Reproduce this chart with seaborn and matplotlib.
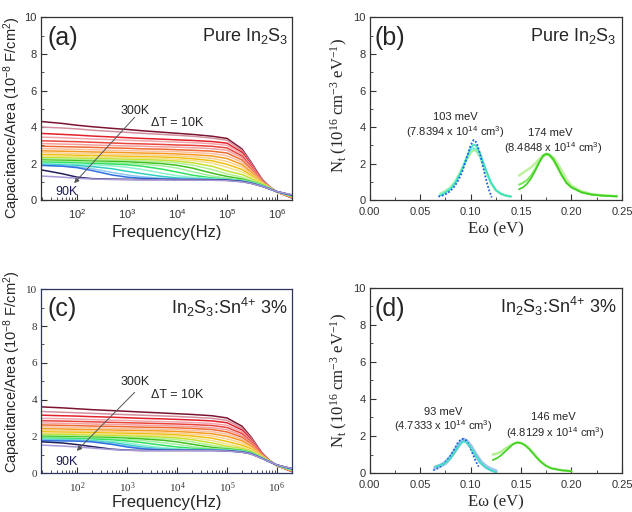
import matplotlib
matplotlib.use("Agg")
import matplotlib.pyplot as plt
import pandas as pd
import seaborn as sns
from matplotlib.ticker import MultipleLocator, LogLocator, NullFormatter

sns.set_style("ticks", {"xtick.direction": "in", "ytick.direction": "in"})
plt.rcParams["font.family"] = ["Liberation Sans", "DejaVu Sans"]
plt.rcParams["mathtext.default"] = "regular"
SERIF = ["Liberation Serif", "DejaVu Serif"]

# --- C-f data (curves listed from 300K at top down to 90K) ---
freq = [20, 50, 100, 200, 500, 1e3, 2e3, 5e3, 1e4, 2e4, 5e4, 1e5, 2e5, 3e5, 5e5, 7e5, 1e6, 2e6]

cap_pure = [
    [4.30, 4.20, 4.10, 4.02, 3.93, 3.87, 3.80, 3.72, 3.66, 3.60, 3.50, 3.38, 2.80, 2.10, 1.15, 0.75, 0.45, 0.12],
    [4.00, 3.95, 3.90, 3.83, 3.76, 3.71, 3.66, 3.60, 3.55, 3.50, 3.40, 3.28, 2.72, 2.05, 1.12, 0.75, 0.45, 0.13],
    [3.65, 3.60, 3.56, 3.51, 3.46, 3.42, 3.38, 3.34, 3.30, 3.27, 3.21, 3.12, 2.62, 1.98, 1.10, 0.74, 0.45, 0.14],
    [3.45, 3.42, 3.38, 3.35, 3.31, 3.28, 3.25, 3.21, 3.18, 3.15, 3.09, 3.00, 2.52, 1.92, 1.08, 0.73, 0.45, 0.15],
    [3.25, 3.22, 3.20, 3.17, 3.13, 3.10, 3.08, 3.05, 3.02, 3.00, 2.95, 2.86, 2.42, 1.85, 1.06, 0.72, 0.45, 0.16],
    [3.10, 3.07, 3.05, 3.02, 2.99, 2.97, 2.95, 2.92, 2.90, 2.87, 2.82, 2.73, 2.32, 1.78, 1.04, 0.72, 0.45, 0.17],
    [2.95, 2.93, 2.91, 2.89, 2.86, 2.84, 2.81, 2.79, 2.76, 2.73, 2.68, 2.58, 2.20, 1.70, 1.02, 0.71, 0.45, 0.18],
    [2.82, 2.80, 2.78, 2.76, 2.73, 2.71, 2.69, 2.67, 2.65, 2.61, 2.55, 2.43, 2.08, 1.62, 1.00, 0.71, 0.45, 0.18],
    [2.70, 2.68, 2.66, 2.64, 2.62, 2.60, 2.58, 2.56, 2.53, 2.49, 2.42, 2.28, 1.95, 1.54, 0.98, 0.70, 0.45, 0.19],
    [2.60, 2.58, 2.56, 2.54, 2.52, 2.50, 2.48, 2.46, 2.43, 2.38, 2.29, 2.12, 1.82, 1.46, 0.96, 0.70, 0.45, 0.20],
    [2.50, 2.48, 2.46, 2.44, 2.42, 2.40, 2.38, 2.36, 2.33, 2.27, 2.16, 1.96, 1.68, 1.38, 0.94, 0.69, 0.46, 0.20],
    [2.42, 2.40, 2.38, 2.36, 2.34, 2.32, 2.30, 2.28, 2.24, 2.17, 2.03, 1.80, 1.55, 1.30, 0.92, 0.69, 0.46, 0.21],
    [2.34, 2.32, 2.30, 2.28, 2.26, 2.24, 2.22, 2.19, 2.14, 2.05, 1.86, 1.60, 1.40, 1.20, 0.90, 0.68, 0.46, 0.22],
    [2.27, 2.25, 2.23, 2.21, 2.19, 2.17, 2.14, 2.10, 2.04, 1.92, 1.68, 1.44, 1.26, 1.10, 0.87, 0.67, 0.46, 0.22],
    [2.20, 2.18, 2.16, 2.14, 2.12, 2.10, 2.06, 2.00, 1.91, 1.76, 1.48, 1.30, 1.16, 1.03, 0.84, 0.66, 0.47, 0.23],
    [2.14, 2.12, 2.10, 2.08, 2.05, 2.02, 1.97, 1.88, 1.76, 1.56, 1.32, 1.20, 1.10, 1.00, 0.82, 0.65, 0.47, 0.24],
    [2.08, 2.06, 2.04, 2.01, 1.98, 1.94, 1.86, 1.70, 1.54, 1.37, 1.22, 1.15, 1.07, 0.98, 0.80, 0.64, 0.47, 0.25],
    [2.02, 2.00, 1.97, 1.94, 1.88, 1.80, 1.68, 1.48, 1.34, 1.25, 1.18, 1.13, 1.06, 0.97, 0.80, 0.64, 0.47, 0.25],
    [1.96, 1.93, 1.90, 1.84, 1.72, 1.58, 1.45, 1.30, 1.22, 1.18, 1.15, 1.12, 1.05, 0.96, 0.79, 0.63, 0.47, 0.26],
    [1.92, 1.88, 1.83, 1.72, 1.52, 1.38, 1.28, 1.20, 1.17, 1.15, 1.13, 1.11, 1.04, 0.95, 0.78, 0.63, 0.47, 0.27],
    [1.90, 1.86, 1.78, 1.62, 1.38, 1.26, 1.20, 1.16, 1.15, 1.14, 1.12, 1.10, 1.03, 0.94, 0.77, 0.62, 0.47, 0.28],
    [1.65, 1.45, 1.26, 1.18, 1.15, 1.14, 1.13, 1.13, 1.12, 1.12, 1.11, 1.09, 1.02, 0.93, 0.76, 0.62, 0.47, 0.28],
    [1.32, 1.26, 1.20, 1.16, 1.13, 1.12, 1.11, 1.11, 1.10, 1.10, 1.09, 1.07, 1.00, 0.92, 0.76, 0.62, 0.47, 0.30],
]

cap_sn = [
    [3.60, 3.55, 3.50, 3.45, 3.40, 3.36, 3.32, 3.27, 3.23, 3.19, 3.12, 3.00, 2.55, 1.98, 1.10, 0.70, 0.40, 0.08],
    [3.35, 3.31, 3.28, 3.25, 3.21, 3.18, 3.15, 3.11, 3.08, 3.04, 2.98, 2.87, 2.45, 1.92, 1.08, 0.70, 0.40, 0.09],
    [3.15, 3.12, 3.10, 3.07, 3.04, 3.01, 2.98, 2.95, 2.92, 2.89, 2.84, 2.74, 2.35, 1.85, 1.06, 0.69, 0.40, 0.10],
    [2.98, 2.96, 2.94, 2.91, 2.88, 2.86, 2.83, 2.80, 2.78, 2.75, 2.70, 2.60, 2.25, 1.78, 1.04, 0.69, 0.40, 0.11],
    [2.85, 2.83, 2.81, 2.79, 2.76, 2.74, 2.72, 2.69, 2.67, 2.64, 2.59, 2.48, 2.15, 1.72, 1.02, 0.68, 0.40, 0.12],
    [2.73, 2.71, 2.69, 2.67, 2.65, 2.63, 2.61, 2.58, 2.56, 2.53, 2.47, 2.36, 2.05, 1.66, 1.00, 0.68, 0.40, 0.13],
    [2.62, 2.60, 2.58, 2.56, 2.54, 2.52, 2.50, 2.48, 2.46, 2.43, 2.37, 2.24, 1.95, 1.60, 0.99, 0.67, 0.41, 0.13],
    [2.52, 2.50, 2.48, 2.46, 2.44, 2.42, 2.40, 2.38, 2.36, 2.32, 2.25, 2.12, 1.85, 1.53, 0.97, 0.67, 0.41, 0.14],
    [2.42, 2.40, 2.38, 2.36, 2.34, 2.33, 2.31, 2.29, 2.26, 2.22, 2.14, 2.00, 1.76, 1.48, 0.96, 0.67, 0.41, 0.14],
    [2.33, 2.31, 2.30, 2.28, 2.26, 2.24, 2.22, 2.20, 2.17, 2.12, 2.02, 1.86, 1.64, 1.40, 0.94, 0.66, 0.41, 0.15],
    [2.25, 2.23, 2.22, 2.20, 2.18, 2.16, 2.14, 2.12, 2.08, 2.02, 1.90, 1.72, 1.52, 1.32, 0.92, 0.66, 0.42, 0.15],
    [2.18, 2.16, 2.15, 2.13, 2.11, 2.09, 2.07, 2.04, 2.00, 1.92, 1.77, 1.58, 1.42, 1.26, 0.90, 0.66, 0.42, 0.16],
    [2.11, 2.10, 2.08, 2.06, 2.04, 2.02, 2.00, 1.96, 1.91, 1.82, 1.64, 1.46, 1.34, 1.20, 0.88, 0.65, 0.42, 0.16],
    [2.05, 2.04, 2.02, 2.00, 1.98, 1.96, 1.93, 1.88, 1.82, 1.70, 1.51, 1.38, 1.28, 1.16, 0.86, 0.65, 0.42, 0.17],
    [2.00, 1.98, 1.97, 1.95, 1.93, 1.90, 1.86, 1.79, 1.70, 1.57, 1.40, 1.32, 1.24, 1.13, 0.85, 0.64, 0.43, 0.18],
    [1.95, 1.93, 1.92, 1.90, 1.87, 1.83, 1.77, 1.66, 1.56, 1.44, 1.33, 1.28, 1.21, 1.11, 0.84, 0.64, 0.43, 0.18],
    [1.90, 1.89, 1.87, 1.85, 1.81, 1.75, 1.66, 1.52, 1.42, 1.35, 1.29, 1.26, 1.19, 1.10, 0.83, 0.64, 0.43, 0.19],
    [1.86, 1.84, 1.82, 1.79, 1.73, 1.64, 1.52, 1.39, 1.33, 1.29, 1.27, 1.25, 1.18, 1.09, 0.83, 0.63, 0.43, 0.20],
    [1.82, 1.80, 1.78, 1.75, 1.66, 1.54, 1.42, 1.32, 1.28, 1.27, 1.26, 1.24, 1.17, 1.08, 0.82, 0.63, 0.44, 0.21],
    [1.79, 1.78, 1.76, 1.72, 1.60, 1.47, 1.36, 1.29, 1.27, 1.26, 1.25, 1.23, 1.16, 1.07, 0.82, 0.63, 0.44, 0.22],
    [1.76, 1.75, 1.74, 1.70, 1.56, 1.42, 1.32, 1.26, 1.25, 1.24, 1.24, 1.22, 1.15, 1.06, 0.81, 0.62, 0.44, 0.23],
    [1.70, 1.64, 1.55, 1.44, 1.30, 1.25, 1.23, 1.23, 1.23, 1.23, 1.23, 1.21, 1.14, 1.05, 0.80, 0.62, 0.44, 0.24],
    [1.52, 1.47, 1.42, 1.36, 1.28, 1.24, 1.22, 1.22, 1.22, 1.22, 1.22, 1.20, 1.13, 1.04, 0.80, 0.62, 0.44, 0.25],
]

curve_colors = ["#7b1431", "#d4909f", "#e3202a", "#f2a5ad", "#e8453c", "#f4a0a0",
                "#f06a30", "#f8c0a0", "#f59a20", "#fad090", "#f0c010", "#f2e08a",
                "#c8e030", "#b0f090", "#40c020", "#a0f0a0", "#30e060", "#90f0d0",
                "#30d0c0", "#90c8f0", "#3070e0", "#23205a", "#a898d8"]

# --- trap density data ---
b_blue_x = [0.068, 0.072, 0.076, 0.080, 0.084, 0.088, 0.092, 0.096, 0.100, 0.103, 0.106, 0.109, 0.112, 0.115, 0.118, 0.121]
b_blue_y = [0.20, 0.25, 0.35, 0.50, 0.75, 1.10, 1.60, 2.30, 3.00, 3.30, 3.15, 2.60, 1.90, 1.20, 0.60, 0.15]
b_cyan_x = [0.070, 0.075, 0.080, 0.085, 0.090, 0.095, 0.100, 0.103, 0.106, 0.110, 0.115, 0.120, 0.125, 0.130, 0.135, 0.140]
b_cyan1_y = [0.25, 0.40, 0.60, 0.95, 1.50, 2.20, 2.85, 3.05, 2.95, 2.50, 1.70, 1.00, 0.55, 0.35, 0.25, 0.20]
b_cyan2_y = [0.30, 0.45, 0.65, 1.00, 1.50, 2.10, 2.70, 2.85, 2.78, 2.35, 1.60, 0.95, 0.55, 0.35, 0.25, 0.20]
b_cyan3_y = [0.35, 0.50, 0.70, 1.05, 1.55, 2.10, 2.60, 2.75, 2.68, 2.30, 1.60, 0.95, 0.55, 0.35, 0.25, 0.20]
b_green_x = [0.148, 0.152, 0.156, 0.160, 0.164, 0.168, 0.172, 0.175, 0.178, 0.182, 0.186, 0.190, 0.195, 0.200, 0.210, 0.220, 0.230, 0.245]
b_green1_y = [0.60, 0.70, 0.90, 1.20, 1.60, 2.05, 2.45, 2.55, 2.50, 2.25, 1.85, 1.40, 0.95, 0.70, 0.42, 0.30, 0.25, 0.20]
b_green2_y = [0.85, 0.95, 1.10, 1.35, 1.70, 2.10, 2.40, 2.50, 2.45, 2.20, 1.80, 1.40, 0.95, 0.70, 0.45, 0.32, 0.26, 0.22]
b_green3_y = [1.35, 1.50, 1.65, 1.80, 2.00, 2.25, 2.45, 2.50, 2.48, 2.35, 2.05, 1.65, 1.15, 0.80, 0.48, 0.33, 0.27, 0.22]

d_blue_x = [0.063, 0.067, 0.071, 0.075, 0.079, 0.083, 0.087, 0.090, 0.093, 0.096, 0.099, 0.102, 0.105, 0.108]
d_blue_y = [0.15, 0.25, 0.40, 0.60, 0.85, 1.20, 1.60, 1.80, 1.85, 1.75, 1.45, 1.05, 0.65, 0.35]
d_cyan_x = [0.065, 0.070, 0.075, 0.080, 0.085, 0.090, 0.093, 0.096, 0.100, 0.105, 0.110, 0.115, 0.120, 0.125]
d_cyan1_y = [0.35, 0.42, 0.55, 0.80, 1.20, 1.60, 1.72, 1.65, 1.40, 0.95, 0.55, 0.30, 0.15, 0.05]
d_cyan2_y = [0.30, 0.40, 0.55, 0.85, 1.25, 1.65, 1.80, 1.72, 1.45, 1.00, 0.60, 0.35, 0.20, 0.10]
d_green_x = [0.122, 0.126, 0.130, 0.134, 0.138, 0.142, 0.146, 0.150, 0.154, 0.158, 0.162, 0.166, 0.170, 0.175, 0.180, 0.190, 0.200]
d_green1_y = [0.70, 0.80, 0.95, 1.15, 1.35, 1.55, 1.65, 1.62, 1.50, 1.30, 1.05, 0.80, 0.58, 0.38, 0.25, 0.15, 0.10]
d_green2_y = [1.00, 1.05, 1.15, 1.30, 1.45, 1.58, 1.65, 1.62, 1.52, 1.35, 1.10, 0.85, 0.62, 0.40, 0.27, 0.16, 0.10]

fig = plt.figure(figsize=(6.32, 5.12), dpi=100)
ax_a = fig.add_axes([0.065, 0.609, 0.397, 0.357])
ax_b = fig.add_axes([0.585, 0.609, 0.399, 0.357])
ax_c = fig.add_axes([0.065, 0.076, 0.397, 0.359])
ax_d = fig.add_axes([0.585, 0.076, 0.399, 0.362])


def style_axes(ax, spine_color="#333333", serif_ticks=False):
    for s in ax.spines.values():
        s.set_color(spine_color)
        s.set_linewidth(0.9)
    ax.tick_params(which="both", direction="in", top=False, right=False, colors="#333333")
    ax.tick_params(axis="x", which="major", length=4, labelsize=8, pad=5)
    ax.tick_params(axis="y", which="major", length=4, labelsize=8, pad=3)
    ax.tick_params(which="minor", length=2)
    ax.set_ylim(0, 10)
    ax.yaxis.set_major_locator(MultipleLocator(2))
    ax.yaxis.set_minor_locator(MultipleLocator(1))
    if serif_ticks:
        for lab in ax.get_xticklabels() + ax.get_yticklabels():
            lab.set_family(SERIF)


def cf_panel(ax, rows, tag, title, arrow_start, arrow_end, txt_y, ylab_y, xlab_pad):
    df = pd.DataFrame([(i, f, c) for i, r in enumerate(rows) for f, c in zip(freq, r)],
                      columns=["curve", "f", "C"])
    sns.lineplot(data=df, x="f", y="C", hue="curve", hue_order=list(range(len(rows))),
                 palette=curve_colors, legend=False, estimator=None, lw=1.1, ax=ax)
    ax.set_xscale("log")
    ax.set_xlim(19, 2e6)
    ax.xaxis.set_major_locator(LogLocator(base=10))
    ax.xaxis.set_minor_locator(LogLocator(base=10, subs=range(2, 10)))
    ax.xaxis.set_minor_formatter(NullFormatter())
    ax.set_xlabel("Frequency(Hz)", fontsize=12, labelpad=xlab_pad)
    ax.set_ylabel("Capacitance/Area (10$^{-8}$ F/cm$^{2}$)", fontsize=10.5)
    ax.yaxis.set_label_coords(-0.072, ylab_y)
    ax.text(0.025, 0.89, tag, transform=ax.transAxes, fontsize=18, ha="left", va="center")
    ax.text(0.985, 0.90, title, transform=ax.transAxes, fontsize=13, ha="right", va="center")
    ax.annotate("", xy=arrow_end, xytext=arrow_start,
                arrowprops=dict(arrowstyle="-|>", color="#555555", lw=0.7, mutation_scale=7))
    ax.text(1450, txt_y[0], "300K", fontsize=9, ha="center", va="center")
    ax.text(1.0e4, txt_y[1], "ΔT = 10K", fontsize=9, ha="center", va="center")
    ax.text(60, txt_y[2], "90K", fontsize=9, ha="center", va="center", color="#1a1a50")


def nt_panel(ax, series, tag, title, notes, ylab_y):
    for x, y, c, ls, lw in series:
        sns.lineplot(x=x, y=y, color=c, linestyle=ls, lw=lw, ax=ax, estimator=None, sort=False)
    ax.set_xlim(0, 0.25)
    ax.xaxis.set_major_locator(MultipleLocator(0.05))
    ax.xaxis.set_minor_locator(MultipleLocator(0.025))
    ax.xaxis.set_major_formatter(plt.FuncFormatter(lambda v, p: f"{v:.2f}"))
    ax.set_xlabel("Eω (eV)", fontsize=12, family=SERIF, labelpad=3)
    ax.set_ylabel("N$_t$ (10$^{16}$ cm$^{-3}$ eV$^{-1}$)", fontsize=12, family=SERIF)
    ax.yaxis.set_label_coords(-0.078, ylab_y)
    ax.text(0.02, 0.885, tag, transform=ax.transAxes, fontsize=18, ha="left", va="center")
    ax.text(0.98, 0.90, title, transform=ax.transAxes, fontsize=13, ha="right", va="center")
    for x, y, s in notes:
        ax.text(x, y, s, fontsize=8, ha="center", va="center")


pure = "Pure In$_2$S$_3$"
doped = "In$_2$S$_3$:Sn$^{4{+}}$ 3%"

cf_panel(ax_a, cap_pure, "(a)", pure, (1550, 4.65), (80, 0.82), (4.9, 4.2, 0.45), 0.45, 3)
cf_panel(ax_c, cap_sn, "(c)", doped, (1550, 4.5), (90, 1.1), (4.95, 4.25, 0.6), 0.55, 0)

dots = (0, (1, 1))
nt_panel(ax_b, [
    (b_cyan_x, b_cyan3_y, "#b0f0a0", "-", 1.8),
    (b_cyan_x, b_cyan2_y, "#7ff0c8", "-", 1.5),
    (b_cyan_x, b_cyan1_y, "#3de0c0", "-", 1.2),
    (b_blue_x, b_blue_y, "#1f5fe0", dots, 1.3),
    (b_green_x, b_green3_y, "#c0f0a0", "-", 1.8),
    (b_green_x, b_green2_y, "#80e860", "-", 1.5),
    (b_green_x, b_green1_y, "#40d020", "-", 1.2),
], "(b)", pure, [
    (0.0845, 4.55, "103 meV"),
    (0.0845, 3.73, "(7.8394 x 10$^{14}$ cm$^{3}$)"),
    (0.179, 3.65, "174 meV"),
    (0.182, 2.83, "(8.4848 x 10$^{14}$ cm$^{3}$)"),
], 0.52)

nt_panel(ax_d, [
    (d_cyan_x, d_cyan2_y, "#9cc4ec", "-", 3.0),
    (d_blue_x, d_blue_y, "#1f5fe0", dots, 1.3),
    (d_cyan_x, d_cyan1_y, "#3de0c0", "-", 1.2),
    (d_green_x, d_green2_y, "#b0f090", "-", 1.8),
    (d_green_x, d_green1_y, "#40d020", "-", 1.2),
], "(d)", doped, [
    (0.0726, 3.27, "93 meV"),
    (0.0726, 2.51, "(4.7333 x 10$^{14}$ cm$^{3}$)"),
    (0.182, 3.05, "146 meV"),
    (0.184, 2.16, "(4.8129 x 10$^{14}$ cm$^{3}$)"),
], 0.50)

style_axes(ax_a)
style_axes(ax_b)
style_axes(ax_c, spine_color="#2b3560", serif_ticks=True)
style_axes(ax_d)

fig.savefig("out.png", dpi=100, facecolor="white")
